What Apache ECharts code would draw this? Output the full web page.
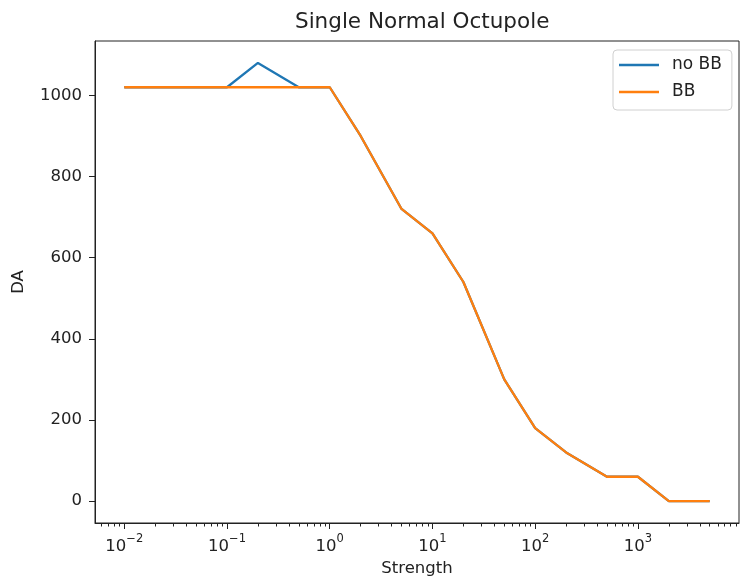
<!DOCTYPE html>
<html>
<head>
<meta charset="utf-8">
<script src="https://cdn.jsdelivr.net/npm/echarts@6/dist/echarts.min.js"></script>
<style>html,body{margin:0;padding:0;background:#fff}#c{width:740px;height:586px}</style>
</head>
<body>
<div id="c"></div>
<script>
const titleText = 'Single Normal Octupole';
const xName = 'Strength';
const yName = 'DA';
const seriesNames = ['no BB', 'BB'];
const strength = [0.01, 0.1, 0.2, 0.5, 1, 2, 5, 10, 20, 50, 100, 200, 500, 1000, 2000, 5000];
const daNoBB = [1020, 1020, 1080, 1020, 1020, 900, 720, 660, 540, 300, 180, 120, 60, 60, 0, 0];
const daBB   = [1020, 1020, 1020, 1020, 1020, 900, 720, 660, 540, 300, 180, 120, 60, 60, 0, 0];
const xMajorTicks = [0.01, 0.1, 1, 10, 100, 1000];
const yTicks = [0, 200, 400, 600, 800, 1000];
const xMin = 0.005188, xMax = 9640;
const yMin = -54, yMax = 1134;

const xMinorTicks = [];
for (let e = -3; e <= 3; e++) {
  for (let m = 2; m <= 9; m++) {
    const v = m * Math.pow(10, e);
    if (v > xMin && v < xMax) xMinorTicks.push(v);
  }
}

const FONT = 'DejaVu Sans';
const AX = '#222';
const chart = echarts.init(document.getElementById('c'), null, {renderer: 'canvas'});
chart.setOption({
  animation: false,
  backgroundColor: '#fff',
  textStyle: {fontFamily: FONT},
  title: {
    text: titleText, left: 290, top: 6,
    textStyle: {fontFamily: FONT, fontSize: 21.5, fontWeight: 'normal', color: '#222'}
  },
  legend: {
    orient: 'vertical', left: 613, top: 50,
    data: seriesNames,
    icon: 'rect', itemWidth: 40, itemHeight: 2.5, itemGap: 7,
    padding: [5, 10, 8, 6],
    borderColor: '#d0d0d0', borderWidth: 1, borderRadius: 4,
    backgroundColor: 'rgba(255,255,255,0.8)',
    textStyle: {fontFamily: FONT, fontSize: 17, color: '#222', lineHeight: 20, padding: [0, 0, 0, 8]}
  },
  grid: {left: 95, right: 1, top: 41, bottom: 63, show: true, borderColor: AX, borderWidth: 1, backgroundColor: 'transparent'},
  xAxis: [{
    type: 'log', min: xMin, max: xMax, position: 'bottom',
    name: xName, nameLocation: 'middle', nameGap: 34,
    nameTextStyle: {fontFamily: FONT, fontSize: 16.5, color: '#222'},
    axisLine: {show: true, onZero: false, lineStyle: {color: AX, width: 1}},
    axisTick: {show: true, length: 6, lineStyle: {color: AX}, customValues: xMajorTicks},
    splitLine: {show: false}, minorTick: {show: false},
    axisLabel: {
      customValues: xMajorTicks, margin: 10, color: '#222',
      formatter: function (v) {
        const e = Math.round(Math.log10(v));
        return '{b|10}{s|' + (e < 0 ? '\u2212' : '') + Math.abs(e) + '}';
      },
      rich: {
        b: {fontFamily: FONT, fontSize: 16.5, color: '#222', lineHeight: 22, verticalAlign: 'bottom'},
        s: {fontFamily: FONT, fontSize: 11.5, color: '#222', lineHeight: 12, verticalAlign: 'top'}
      }
    }
  }, {
    type: 'log', min: xMin, max: xMax, position: 'bottom', gridIndex: 0,
    axisLine: {show: false, onZero: false},
    axisTick: {show: true, length: 3.5, lineStyle: {color: AX}, customValues: xMinorTicks},
    axisLabel: {show: false},
    splitLine: {show: false}
  }],
  yAxis: {
    type: 'value', min: yMin, max: yMax,
    name: yName, nameLocation: 'middle', nameGap: 68,
    nameTextStyle: {fontFamily: FONT, fontSize: 16.5, color: '#222'},
    axisLine: {show: true, onZero: false, lineStyle: {color: AX, width: 1}},
    axisTick: {show: true, length: 6, lineStyle: {color: AX}, customValues: yTicks},
    axisLabel: {customValues: yTicks, margin: 13, fontFamily: FONT, fontSize: 16.5, color: '#222',
      formatter: function (v) { return String(v); }},
    splitLine: {show: false}
  },
  series: [{
    name: seriesNames[0], type: 'line', xAxisIndex: 0, symbol: 'none', showSymbol: false,
    data: strength.map((s, i) => [s, daNoBB[i]]),
    itemStyle: {color: '#1f77b4'}, lineStyle: {color: '#1f77b4', width: 2.3}
  }, {
    name: seriesNames[1], type: 'line', xAxisIndex: 0, symbol: 'none', showSymbol: false,
    data: strength.map((s, i) => [s, daBB[i]]),
    itemStyle: {color: '#ff7f0e'}, lineStyle: {color: '#ff7f0e', width: 2.3}
  }]
});
</script>
</body>
</html>
